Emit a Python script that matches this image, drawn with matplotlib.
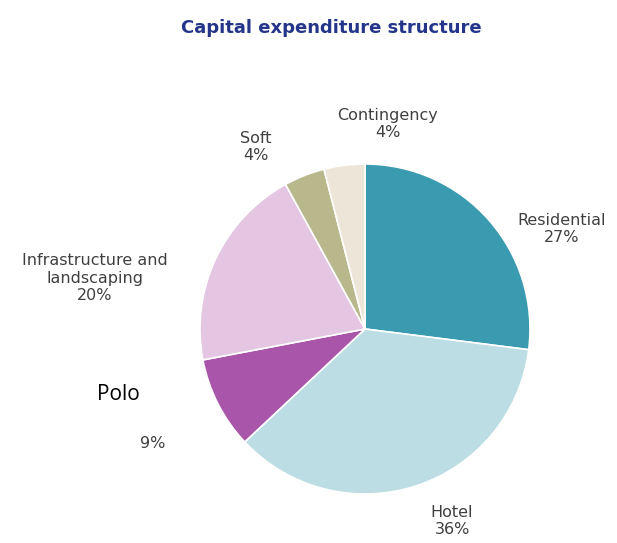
import matplotlib.pyplot as plt

# Capex split by component (%)
labels = ["Residential", "Hotel", "Polo", "Infrastructure and\nlandscaping", "Soft", "Contingency"]
shares = [27, 36, 9, 20, 4, 4]
colors = ["#3a9bb0", "#bcdde3", "#a955aa", "#e4c5e2", "#b9b78c", "#ece5d8"]

W, H = 617, 543
fig = plt.figure(figsize=(W / 100, H / 100), dpi=100)
ax = fig.add_axes([0, 0, 1, 1])

ax.pie(shares, colors=colors, startangle=90, counterclock=False,
       center=(365, H - 329), radius=165, frame=True,
       wedgeprops=dict(edgecolor="white", linewidth=1.2))
ax.set_xlim(0, W)
ax.set_ylim(0, H)
ax.set_aspect("equal")
ax.axis("off")

ax.text(331, H - 28, "Capital expenditure structure", ha="center", va="center",
        fontsize=13, fontweight="bold", color="#24358a")

# label block centres, in pixels from the top-left corner
pos = {
    "Residential": (562, 229),
    "Hotel": (452, 521),
    "Polo": (153, 443),
    "Infrastructure and\nlandscaping": (95, 278),
    "Soft": (256, 147),
    "Contingency": (388, 124),
}
txt = dict(fontsize=11.5, color="#404040", ha="center", va="center", linespacing=1.2)
for lab, val in zip(labels, shares):
    x, y = pos[lab]
    if lab == "Polo":
        ax.text(x, H - y, f"{val}%", **txt)
        ax.text(118, H - 395, lab, fontsize=15, color="black", ha="center",
                va="center", family="Open Sans")
    else:
        ax.text(x, H - y, f"{lab}\n{val}%", **txt)

fig.savefig("out.png", dpi=100)
